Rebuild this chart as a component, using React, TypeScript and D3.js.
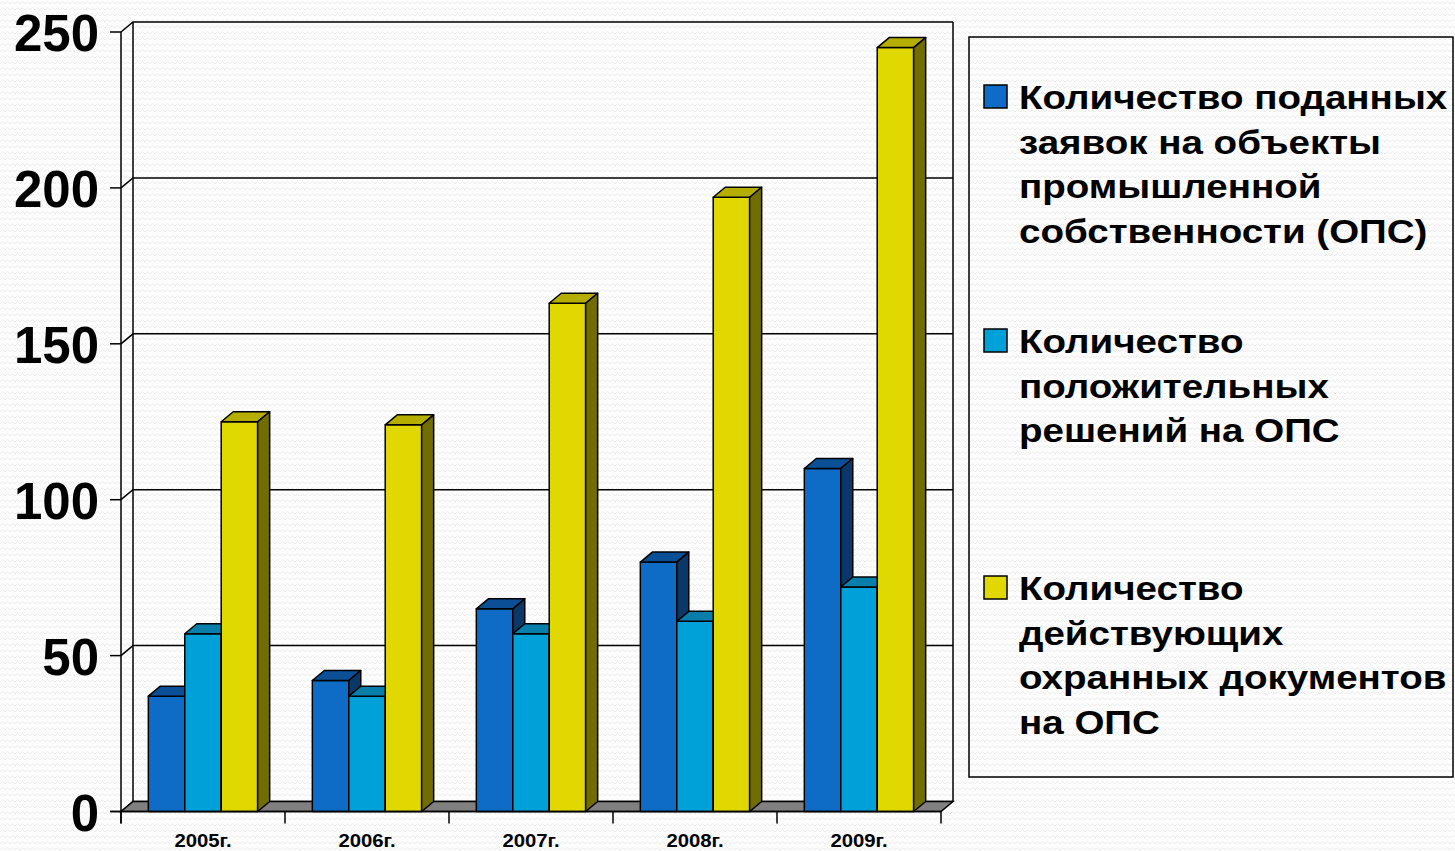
import React, { useEffect, useRef } from "react";
import * as d3 from "d3";

const years = ["2005г.", "2006г.", "2007г.", "2008г.", "2009г."];
const filed = [37, 42, 65, 80, 110];
const positive = [57, 37, 57, 61, 72];
const active = [125, 124, 163, 197, 245];
const yTicks = [0, 50, 100, 150, 200, 250];

const seriesKeys = ["filed", "positive", "active"];
const seriesValues = [filed, positive, active];
const legendLines = [
  ["Количество поданных", "заявок на объекты", "промышленной", "собственности (ОПС)"],
  ["Количество", "положительных", "решений на ОПС"],
  ["Количество", "действующих", "охранных документов", "на ОПС"],
];

// front, top, side
const colors = [
  ["#0f6cc6", "#0b4f96", "#0a3868"],
  ["#00a0d8", "#0a7eaa", "#066a90"],
  ["#e0d800", "#b5ae00", "#716d00"],
];

const W = 1455;
const H = 851;
const DX = 12;
const DY = -10;
const FONT = "Arial, 'Liberation Sans', sans-serif";

const Chart3D: React.FC = () => {
  const ref = useRef<SVGSVGElement | null>(null);

  useEffect(() => {
    if (!ref.current) return;
    const svg = d3.select(ref.current);
    svg.selectAll("*").remove();

    const pat = svg
      .append("defs")
      .append("pattern")
      .attr("id", "bgz")
      .attr("width", 10)
      .attr("height", 6)
      .attr("patternUnits", "userSpaceOnUse");
    pat.append("rect").attr("width", 10).attr("height", 6).attr("fill", "#fdfdfd");
    pat
      .append("path")
      .attr("d", "M0 4 L2.5 1.5 L5 4 L7.5 1.5 L10 4")
      .attr("fill", "none")
      .attr("stroke", "#ececec")
      .attr("stroke-width", 1);

    svg.append("rect").attr("width", W).attr("height", H).attr("fill", "url(#bgz)");

    const x0 = d3.scaleBand().domain(years).range([121, 941]).padding(0);
    const x1 = d3
      .scaleBand()
      .domain(seriesKeys)
      .range([0, x0.bandwidth()])
      .paddingInner(0)
      .paddingOuter(0.75);
    const y = d3.scaleLinear().domain([0, 250]).range([811.5, 32]);

    const xL = x0.range()[0];
    const xR = x0.range()[1];

    // back wall edges + gridlines
    const walls = svg.append("g").attr("stroke", "#000").attr("stroke-width", 1.5).attr("fill", "none");
    walls
      .append("line")
      .attr("x1", xL + DX).attr("x2", xL + DX)
      .attr("y1", y(250) + DY).attr("y2", y(0) + DY);
    walls
      .append("line")
      .attr("x1", xR + DX).attr("x2", xR + DX)
      .attr("y1", y(250) + DY).attr("y2", y(0) + DY);
    yTicks.forEach((t) => {
      walls
        .append("path")
        .attr("d", `M${xL},${y(t)} L${xL + DX},${y(t) + DY} L${xR + DX},${y(t) + DY}`);
      walls
        .append("line")
        .attr("x1", xL - 11).attr("x2", xL)
        .attr("y1", y(t)).attr("y2", y(t));
    });

    // floor
    svg
      .append("path")
      .attr(
        "d",
        `M${xL},${y(0)} L${xL + DX},${y(0) + DY} L${xR + DX},${y(0) + DY} L${xR},${y(0)} Z`
      )
      .attr("fill", "#808080")
      .attr("stroke", "#000")
      .attr("stroke-width", 1.5);

    // bars
    const bars = svg.append("g").attr("stroke", "#000").attr("stroke-width", 1.5).attr("stroke-linejoin", "round");
    years.forEach((yr, i) => {
      seriesKeys.forEach((k, s) => {
        const v = seriesValues[s][i];
        const bx = x0(yr)! + x1(k)!;
        const bw = x1.bandwidth();
        const top = y(v);
        const bot = y(0);
        bars
          .append("rect")
          .attr("x", bx).attr("y", top)
          .attr("width", bw).attr("height", bot - top)
          .attr("fill", colors[s][0]);
        bars
          .append("path")
          .attr(
            "d",
            `M${bx},${top} L${bx + DX},${top + DY} L${bx + bw + DX},${top + DY} L${bx + bw},${top} Z`
          )
          .attr("fill", colors[s][1]);
        bars
          .append("path")
          .attr(
            "d",
            `M${bx + bw},${top} L${bx + bw + DX},${top + DY} L${bx + bw + DX},${bot + DY} L${bx + bw},${bot} Z`
          )
          .attr("fill", colors[s][2]);
      });
    });

    // axes
    const ax = svg.append("g").attr("stroke", "#000").attr("stroke-width", 1.5);
    ax.append("line").attr("x1", xL).attr("x2", xL).attr("y1", y(250)).attr("y2", y(0) + 12);
    ax.append("line").attr("x1", xL - 11).attr("x2", xR).attr("y1", y(0)).attr("y2", y(0));
    [...years.map((yr) => x0(yr)!), xR].forEach((xx) => {
      ax.append("line").attr("x1", xx).attr("x2", xx).attr("y1", y(0)).attr("y2", y(0) + 12);
    });

    svg
      .append("g")
      .selectAll("text")
      .data(yTicks)
      .join("text")
      .attr("x", 99)
      .attr("y", (d) => y(d) + 19)
      .attr("text-anchor", "end")
      .attr("font-family", FONT)
      .attr("font-weight", "bold")
      .attr("font-size", 51)
      .attr("fill", "#000")
      .text((d) => d);

    svg
      .append("g")
      .selectAll("text")
      .data(years)
      .join("text")
      .attr(
        "transform",
        (d) => `translate(${x0(d)! + x0.bandwidth() / 2},847) scale(1.07,1)`
      )
      .attr("text-anchor", "middle")
      .attr("font-family", FONT)
      .attr("font-weight", "bold")
      .attr("font-size", 19)
      .attr("fill", "#000")
      .text((d) => d);

    // legend
    const lg = svg.append("g");
    lg.append("rect")
      .attr("x", 969).attr("y", 37)
      .attr("width", 484).attr("height", 740)
      .attr("fill", "url(#bgz)")
      .attr("stroke", "#000")
      .attr("stroke-width", 1.5);
    const itemTop = [97, 341, 588];
    legendLines.forEach((lines, s) => {
      lg.append("rect")
        .attr("x", 984).attr("y", itemTop[s] - 12)
        .attr("width", 23).attr("height", 23)
        .attr("fill", colors[s][0])
        .attr("stroke", "#000")
        .attr("stroke-width", 1.5);
      lines.forEach((ln, j) => {
        lg.append("text")
          .attr("transform", `translate(1019,${itemTop[s] + 12 + j * 44.7}) scale(1.133,1)`)
          .attr("font-family", FONT)
          .attr("font-weight", "bold")
          .attr("font-size", 34)
          .attr("fill", "#000")
          .text(ln);
      });
    });
  }, []);

  return (
    <svg
      ref={ref}
      width={W}
      height={H}
      style={{ position: "absolute", left: 0, top: 0 }}
    ></svg>
  );
};

export default function App() {
  return <Chart3D />;
}
